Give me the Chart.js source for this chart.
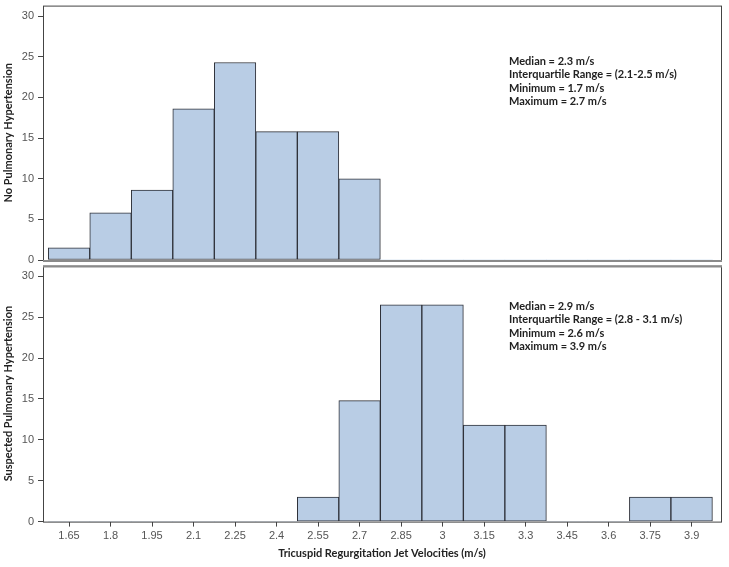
<!DOCTYPE html>
<html>
<head>
<meta charset="utf-8">
<script src="https://cdn.jsdelivr.net/npm/chart.js@4"></script>
<style>
  body { margin: 0; background: #fff; overflow: hidden; }
  #wrap { position: relative; width: 729px; height: 567px; overflow: hidden; }
  .panel { position: absolute; left: 0; }
  #topPanel { top: -5px; width: 729px; height: 277px; }
  #bottomPanel { top: 255px; width: 729px; height: 312px; }
</style>
</head>
<body>
<div id="wrap">
  <div class="panel" id="topPanel"><canvas id="noPhChart"></canvas></div>
  <div class="panel" id="bottomPanel"><canvas id="suspPhChart"></canvas></div>
</div>
<script>
const binCenters = [1.65, 1.8, 1.95, 2.1, 2.25, 2.4, 2.55, 2.7, 2.85, 3, 3.15, 3.3, 3.45, 3.6, 3.75, 3.9];
const noPhCounts = [1.5, 5.8, 8.6, 18.6, 24.3, 15.8, 15.8, 10, 0, 0, 0, 0, 0, 0, 0, 0];
const suspectedPhCounts = [0, 0, 0, 0, 0, 0, 3, 14.8, 26.5, 26.5, 11.8, 11.8, 0, 0, 3, 3];
const xTickLabels = ["1.65", "1.8", "1.95", "2.1", "2.25", "2.4", "2.55", "2.7", "2.85", "3", "3.15", "3.3", "3.45", "3.6", "3.75", "3.9"];
const yTickValues = [0, 5, 10, 15, 20, 25, 30];
const noPhStats = ["Median = 2.3 m/s", "Interquartile Range = (2.1-2.5 m/s)", "Minimum = 1.7 m/s", "Maximum = 2.7 m/s"];
const suspectedPhStats = ["Median = 2.9 m/s", "Interquartile Range = (2.8 - 3.1 m/s)", "Minimum = 2.6 m/s", "Maximum = 3.9 m/s"];

const tickFont = { family: "'Liberation Sans', Arial, sans-serif", size: 11 };
const titleFont = { family: "Lato, 'Open Sans', sans-serif", size: 11, weight: "bold" };

// frame round the plot area + stats text
const panelDecor = {
  id: "panelDecor",
  afterDatasetsDraw(chart, args, opts) {
    const a = chart.chartArea, ctx = chart.ctx;
    ctx.save();
    ctx.strokeStyle = "#444";
    ctx.lineWidth = 1;
    ctx.strokeRect(a.left + 0.5, a.top + 0.5, a.right - a.left, a.bottom - a.top);
    if (opts.grayEdge) {
      ctx.strokeStyle = "#8a8a8a";
      ctx.lineWidth = 2;
      const y = opts.grayEdge === "top" ? a.top + 1 : a.bottom + 1;
      ctx.beginPath(); ctx.moveTo(a.left, y); ctx.lineTo(a.right + 1, y); ctx.stroke();
    }
    ctx.fillStyle = "#222";
    ctx.font = "bold 11px Lato, 'Open Sans', sans-serif";
    ctx.textBaseline = "middle";
    (opts.lines || []).forEach((t, i) => ctx.fillText(t, opts.x, a.top + opts.y + i * 13.3));
    ctx.restore();
  }
};

function makeChart(id, counts, yTitle, stats, showX, pad, statsY, edge) {
  return new Chart(document.getElementById(id), {
    type: "bar",
    data: {
      datasets: [{
        data: binCenters.map((x, i) => ({ x: x, y: counts[i] })),
        backgroundColor: "#b9cde5",
        borderColor: "#2e3038",
        borderWidth: c => (c.raw && c.raw.y > 0 ? 1 : 0),
        borderSkipped: false,
        barPercentage: 1,
        categoryPercentage: 1
      }]
    },
    options: {
      responsive: true,
      maintainAspectRatio: false,
      animation: false,
      layout: { padding: pad },
      plugins: {
        legend: { display: false },
        tooltip: { enabled: false },
        panelDecor: { lines: stats, x: 509, y: statsY, grayEdge: edge }
      },
      scales: {
        x: {
          type: "linear",
          display: showX,
          offset: false,
          min: 1.556,
          max: 4.006,
          afterBuildTicks: s => { s.ticks = binCenters.map(v => ({ value: v })); },
          ticks: {
            color: "#555",
            font: tickFont,
            padding: 3,
            maxRotation: 0,
            autoSkip: false,
            callback: (v, i) => xTickLabels[i]
          },
          grid: { offset: false, drawOnChartArea: false, color: "#444", tickLength: 5 },
          border: { display: false },
          title: {
            display: true,
            text: "Tricuspid Regurgitation Jet Velocities (m/s)",
            color: "#222",
            font: titleFont,
            padding: { top: 1, bottom: 0 }
          }
        },
        y: {
          min: 0,
          max: 31.3,
          afterBuildTicks: s => { s.ticks = yTickValues.map(v => ({ value: v })); },
          afterFit: s => { s.width = 43; },
          ticks: { color: "#555", font: tickFont, padding: 4 },
          grid: { drawOnChartArea: false, color: "#444", tickLength: 5 },
          border: { display: false },
          title: { display: true, text: yTitle, color: "#222", font: titleFont, padding: 2 }
        }
      }
    },
    plugins: [panelDecor]
  });
}

makeChart("noPhChart", noPhCounts, "No Pulmonary Hypertension", noPhStats, false,
  { top: 1, right: 8, bottom: 12, left: 0 }, 56, "bottom");
makeChart("suspPhChart", suspectedPhCounts, "Suspected Pulmonary Hypertension", suspectedPhStats, true,
  { top: 2, right: 8, bottom: 7, left: 0 }, 41, "top");
</script>
</body>
</html>
